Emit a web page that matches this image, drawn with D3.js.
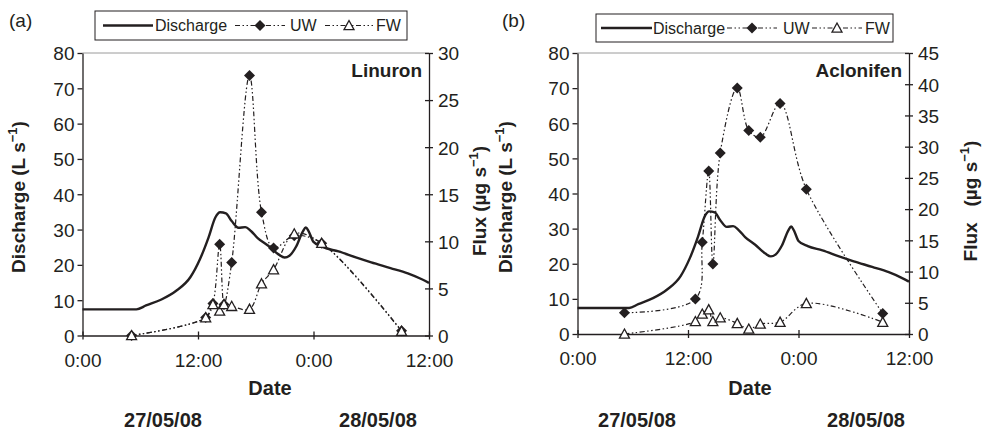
<!DOCTYPE html>
<html lang="en">
  <head>
    <meta charset="UTF-8" />
    <title>Discharge and pesticide flux</title>
    <script src="https://d3js.org/d3.v7.min.js"></script>
    <style>
      body {
        margin: 0;
        background: white;
        font-family: Arial, "Liberation Sans", Helvetica, sans-serif;
      }
      text {
        fill: #231f20;
      }
      .tick-label {
        font-size: 19px;
      }
      .bold {
        font-weight: bold;
      }
    </style>
  </head>
  <body>
    <div id="chart"></div>
    <script>
      // discharge hydrograph (hours since 27/05/08 0:00, L/s)
      const dischargeHours = [
        0, 5.6, 6.6, 8.2, 9.7, 11.2, 12.2, 13.1, 13.8, 14.3, 14.9, 15.5, 16.2,
        16.9, 17.5, 18.2, 19.3, 20.4, 21.0, 21.5, 22.2, 22.9, 23.2, 23.5, 24.0,
        25.0, 26.6, 28.4, 30.0, 32.0, 33.8, 35.2, 36.0,
      ];
      const dischargeValues = [
        7.4, 7.4, 8.5, 10.2, 12.6, 16.5, 21.6, 27.8, 33.4, 34.9, 34.6, 32.4,
        30.5, 30.7, 29.6, 27.6, 25.4, 22.9, 22.1, 22.6, 25.2, 29.5, 30.6, 29.5,
        26.5, 25.0, 23.8, 22.1, 20.7, 19.1, 17.6, 16.0, 14.9,
      ];

      // sampling times shared by UW and FW
      const sampleHours = [
        5.1, 12.8, 13.55, 14.25, 14.7, 15.5, 17.35, 18.6, 19.85, 22.0, 24.85,
        33.15,
      ];
      const linuronUW = [0, 1.9, 3.4, 9.7, 3.3, 7.75, 27.6, 13.1, 9.3, 10.6, 9.8, 0.5];
      const linuronFW = [0, 1.9, 3.3, 2.6, 3.3, 3.1, 2.8, 5.5, 7.0, 10.8, 9.8, 0.45];
      const aclonifenUW = [3.4, 5.6, 14.7, 26.1, 11.2, 29.0, 39.4, 32.6, 31.5, 36.9, 23.2, 3.3];
      const aclonifenFW = [0, 2.0, 3.2, 3.9, 2.0, 2.6, 1.7, 0.8, 1.6, 1.9, 4.9, 1.9];

      const timeTicks = [0, 12, 24, 36];
      const timeTickLabels = ["0:00", "12:00", "0:00", "12:00"];
      const dischargeTicks = [0, 10, 20, 30, 40, 50, 60, 70, 80];
      const linuronFluxTicks = [0, 5, 10, 15, 20, 25, 30];
      const aclonifenFluxTicks = [0, 5, 10, 15, 20, 25, 30, 35, 40, 45];
      const dateLabels = ["27/05/08", "28/05/08"];
      const legendNames = ["Discharge", "UW", "FW"];

      const svg = d3
        .select("#chart")
        .append("svg")
        .attr("width", 983)
        .attr("height", 430);

      const dash = "5,2.5,1.5,2.5,1.5,2.5";
      const diamondPath = "M0,-5.5L5.5,0L0,5.5L-5.5,0Z";
      const trianglePath = "M0,-5L5,4.2L-5,4.2Z";

      function drawPanel(p) {
        const g = svg.append("g");

        const x = d3.scaleLinear().domain([0, 36]).range([p.left, p.right]);
        const yQ = d3.scaleLinear().domain([0, 80]).range([p.bottom, p.top]);
        const yF = d3
          .scaleLinear()
          .domain([0, p.fluxMax])
          .range([p.bottom, p.top]);

        // grey top border of plot area
        g.append("line")
          .attr("x1", p.left)
          .attr("x2", p.right)
          .attr("y1", p.top)
          .attr("y2", p.top)
          .attr("stroke", "#9a9a9a")
          .attr("stroke-width", 1);

        const leftAxis = g
          .append("g")
          .attr("transform", `translate(${p.left},0)`)
          .call(d3.axisLeft(yQ).tickValues(dischargeTicks).tickSize(5).tickSizeOuter(0));
        const rightAxis = g
          .append("g")
          .attr("transform", `translate(${p.right},0)`)
          .call(
            d3.axisRight(yF).tickValues(p.fluxTicks).tickSize(5).tickSizeOuter(0)
          );
        rightAxis
          .selectAll(".tick line")
          .attr("x1", -4)
          .attr("x2", 4);
        const bottomAxis = g
          .append("g")
          .attr("transform", `translate(0,${p.bottom})`)
          .call(
            d3
              .axisBottom(x)
              .tickValues(timeTicks)
              .tickFormat((d, i) => timeTickLabels[i])
              .tickSize(5)
              .tickSizeOuter(0)
          );
        bottomAxis.selectAll(".tick line").attr("y1", -4).attr("y2", 4);

        [leftAxis, rightAxis, bottomAxis].forEach((a) => {
          a.selectAll("path, line").attr("stroke", "#231f20").attr("stroke-width", 1.3);
          a.selectAll("text")
            .attr("class", "tick-label")
            .attr("font-family", null)
            .attr("font-size", null)
            .attr("fill", "#231f20");
        });
        leftAxis.selectAll("text").attr("x", -8).attr("dy", "0.36em");
        rightAxis.selectAll("text").attr("x", 9).attr("dy", "0.36em");
        bottomAxis.selectAll("text").attr("y", 17).attr("dy", "0.75em");

        // discharge
        const qData = dischargeHours.map((h, i) => [h, dischargeValues[i]]);
        g.append("path")
          .datum(qData)
          .attr("fill", "none")
          .attr("stroke", "#231f20")
          .attr("stroke-width", 2.4)
          .attr("d", d3.line().x((d) => x(d[0])).y((d) => yQ(d[1])).curve(d3.curveMonotoneX));

        const fluxLine = d3
          .line()
          .x((d) => x(d[0]))
          .y((d) => yF(d[1]))
          .curve(d3.curveCatmullRom.alpha(0.5));

        const uw = sampleHours.map((h, i) => [h, p.uw[i]]);
        const fw = sampleHours.map((h, i) => [h, p.fw[i]]);

        [uw, fw].forEach((series) => {
          g.append("path")
            .datum(series)
            .attr("fill", "none")
            .attr("stroke", "#231f20")
            .attr("stroke-width", 1.2)
            .attr("stroke-dasharray", dash)
            .attr("d", fluxLine);
        });

        g.selectAll(".uw")
          .data(uw)
          .join("path")
          .attr("class", "uw")
          .attr("d", diamondPath)
          .attr("fill", "#231f20")
          .attr("transform", (d) => `translate(${x(d[0])},${yF(d[1])})`);

        g.selectAll(".fw")
          .data(fw)
          .join("path")
          .attr("class", "fw")
          .attr("d", trianglePath)
          .attr("fill", "white")
          .attr("stroke", "#231f20")
          .attr("stroke-width", 1.3)
          .attr("transform", (d) => `translate(${x(d[0])},${yF(d[1])})`);

        // compound name
        g.append("text")
          .attr("class", "bold")
          .attr("x", p.right - 7)
          .attr("y", p.top + 24)
          .attr("text-anchor", "end")
          .attr("font-size", 19)
          .text(p.name);

        // panel letter
        g.append("text")
          .attr("x", p.letterX)
          .attr("y", 27)
          .attr("font-size", 19)
          .text(p.letter);

        // axis titles
        const ql = g
          .append("text")
          .attr("class", "bold")
          .attr("font-size", 19)
          .attr("text-anchor", "middle")
          .attr("transform", `translate(${p.qLabelX},${p.labelY}) rotate(-90)`);
        ql.append("tspan").text("Discharge (L s");
        ql.append("tspan").attr("font-size", 13).attr("dy", -8).text("\u22121");
        ql.append("tspan").attr("dy", 8).text(")");

        const fl = g
          .append("text")
          .attr("class", "bold")
          .attr("font-size", 19)
          .attr("text-anchor", "middle")
          .attr("xml:space", "preserve")
          .attr("transform", `translate(${p.fLabelX},${p.labelY + 4}) rotate(-90)`);
        fl.append("tspan").text(p.fluxTitle);
        fl.append("tspan").attr("font-size", 13).attr("dy", -8).text("\u22121");
        fl.append("tspan").attr("dy", 8).text(")");

        g.append("text")
          .attr("class", "bold")
          .attr("x", p.dateX)
          .attr("y", 395)
          .attr("text-anchor", "middle")
          .attr("font-size", 20)
          .text("Date");

        dateLabels.forEach((lab, i) => {
          g.append("text")
            .attr("class", "bold")
            .attr("x", p.dayX[i])
            .attr("y", 427)
            .attr("text-anchor", "middle")
            .attr("font-size", 20)
            .text(lab);
        });

        // legend
        const L = p.legend;
        const lg = g.append("g").attr("transform", `translate(${L.x},${L.y})`);
        const cy = L.h / 2;
        lg.append("rect")
          .attr("width", L.w)
          .attr("height", L.h)
          .attr("fill", "white")
          .attr("stroke", "#231f20")
          .attr("stroke-width", 1);
        lg.append("line")
          .attr("x1", L.items[0][0])
          .attr("x2", L.items[0][1])
          .attr("y1", cy)
          .attr("y2", cy)
          .attr("stroke", "#231f20")
          .attr("stroke-width", 2.4);
        [1, 2].forEach((k) => {
          const it = L.items[k];
          lg.append("line")
            .attr("x1", it[0])
            .attr("x2", it[1])
            .attr("y1", cy)
            .attr("y2", cy)
            .attr("stroke", "#231f20")
            .attr("stroke-width", 1.2)
            .attr("stroke-dasharray", dash);
          lg.append("path")
            .attr("d", k === 1 ? diamondPath : trianglePath)
            .attr("fill", k === 1 ? "#231f20" : "white")
            .attr("stroke", "#231f20")
            .attr("stroke-width", k === 1 ? 0 : 1.3)
            .attr("transform", `translate(${(it[0] + it[1]) / 2},${cy})`);
        });
        L.items.forEach((it, k) => {
          lg.append("text")
            .attr("x", it[2])
            .attr("y", cy)
            .attr("dy", "0.36em")
            .attr("font-size", 16)
            .text(legendNames[k]);
        });
      }

      drawPanel({
        left: 82.5,
        right: 429,
        top: 53,
        bottom: 335.5,
        fluxMax: 30,
        fluxTicks: linuronFluxTicks,
        uw: linuronUW,
        fw: linuronFW,
        name: "Linuron",
        letter: "(a)",
        letterX: 9,
        qLabelX: 25,
        fLabelX: 486,
        labelY: 197,
        fluxTitle: "Flux (\u00b5g s",
        dateX: 270,
        dayX: [163, 378],
        legend: {
          x: 95,
          y: 11,
          w: 312,
          h: 29,
          items: [
            [8, 58, 60],
            [140, 190, 195],
            [230, 278, 281],
          ],
        },
      });

      drawPanel({
        left: 577.5,
        right: 909,
        top: 53,
        bottom: 334,
        fluxMax: 45,
        fluxTicks: aclonifenFluxTicks,
        uw: aclonifenUW,
        fw: aclonifenFW,
        name: "Aclonifen",
        letter: "(b)",
        letterX: 502,
        qLabelX: 512,
        fLabelX: 977,
        labelY: 197,
        fluxTitle: "Flux   (\u00b5g s",
        dateX: 750,
        dayX: [637, 866],
        legend: {
          x: 596,
          y: 14,
          w: 297,
          h: 28,
          items: [
            [5, 56, 57],
            [131, 181, 187],
            [216, 266, 269],
          ],
        },
      });
    </script>
  </body>
</html>
